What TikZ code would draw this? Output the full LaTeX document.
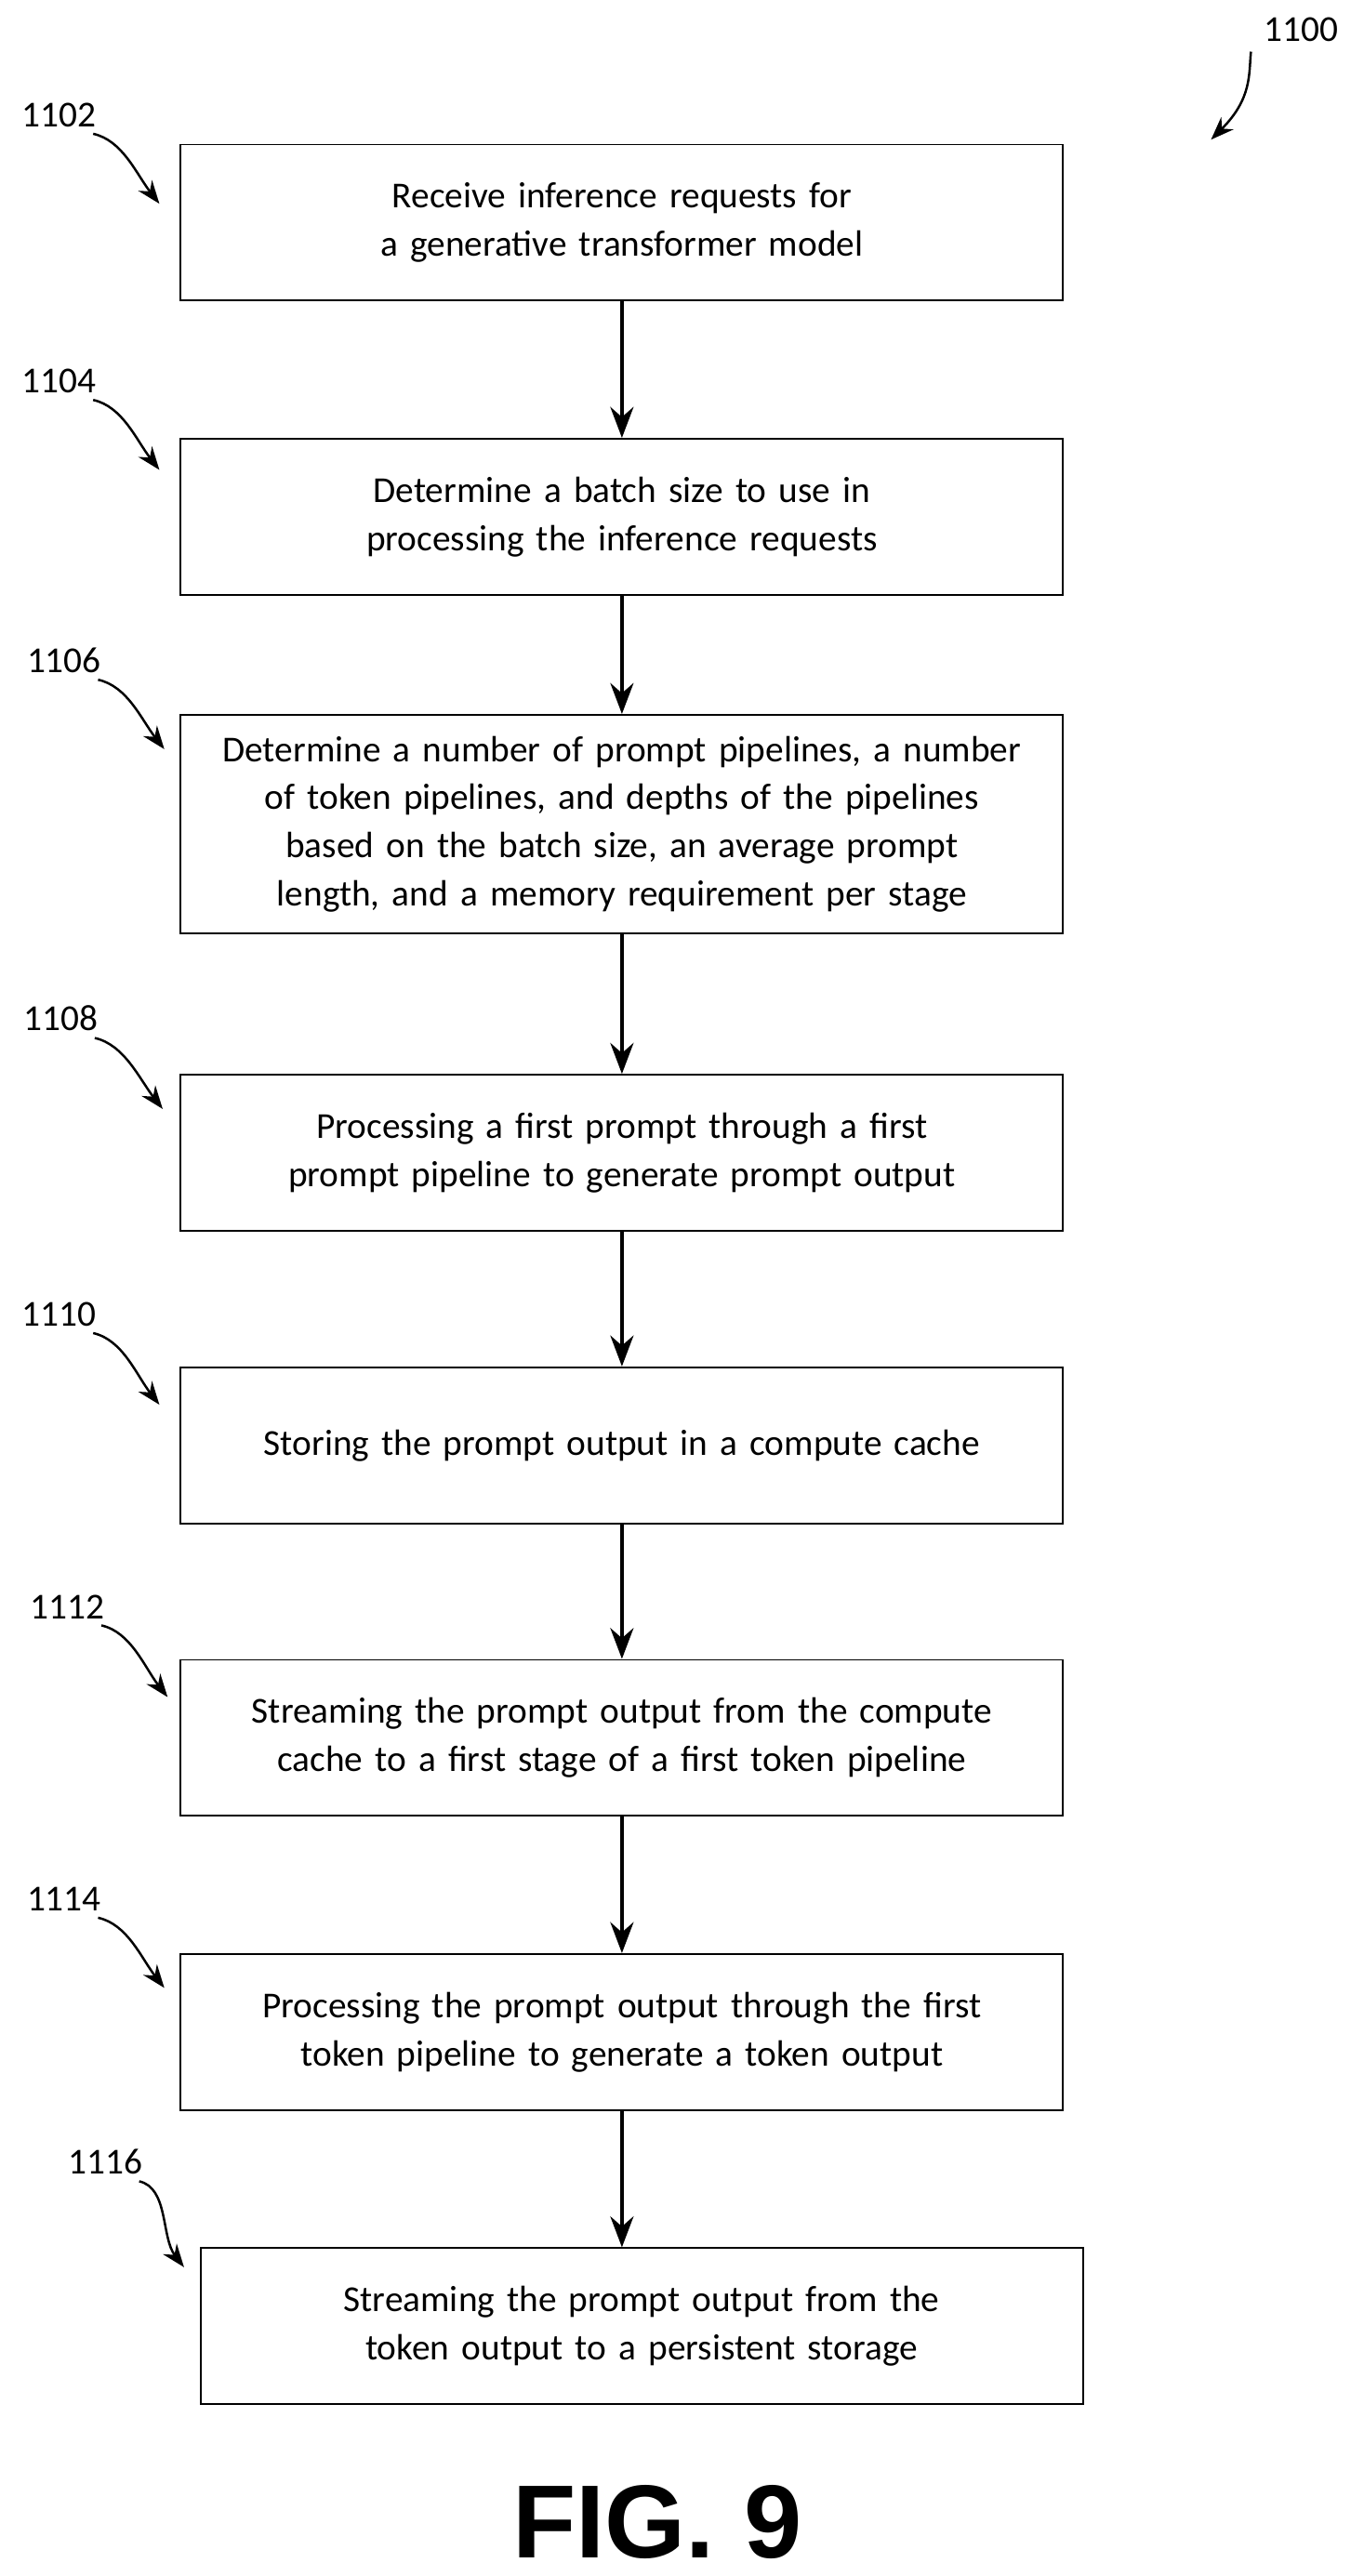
\documentclass[tikz,border=0pt]{standalone}
\usepackage{fontspec}
\setmainfont{Carlito}
\newfontfamily\figfont{Liberation Sans}
\usetikzlibrary{positioning,arrows.meta}

\tikzset{
    stepbox/.style={draw, line width=0.9pt, minimum width=16.11cm, text width=15.3cm,
        align=center, font=\fontsize{19}{25}\selectfont, inner sep=0pt},
    flow/.style={-{Stealth[length=16pt,width=12pt]}, line width=2.2pt},
    tag/.style={font=\fontsize{19}{22}\selectfont},
    hook/.style={-{Stealth[length=12pt,width=9pt]}, line width=1.2pt}
}

\begin{document}
\begin{tikzpicture}[x=0.03cm, y=-0.03cm]
        \useasboundingbox (0,0) rectangle (830,1568);

        \node (b1) [stepbox, minimum height=2.85cm] at (378.5,135.5) {Receive inference requests for a generative transformer model};
        \node (b2) [stepbox, minimum height=2.85cm, below=2.49cm of b1] {Determine a batch size to use in processing the inference requests};
        \node (b3) [stepbox, minimum height=3.99cm, below=2.16cm of b2] {Determine a number of prompt pipelines, a number of token pipelines, and depths of the pipelines based on the batch size, an average prompt length, and a memory requirement per stage};
        \node (b4) [stepbox, minimum height=2.85cm, below=2.55cm of b3] {Processing a first prompt through a first prompt pipeline to generate prompt output};
        \node (b5) [stepbox, minimum height=2.85cm, below=2.46cm of b4] {Storing the prompt output in a compute cache};
        \node (b6) [stepbox, minimum height=2.85cm, below=2.46cm of b5] {Streaming the prompt output from the compute cache to a first stage of a first token pipeline};
        \node (b7) [stepbox, minimum height=2.85cm, below=2.49cm of b6] {Processing the prompt output through the first token pipeline to generate a token output};
        \node (b8) [stepbox, minimum height=2.85cm, below=2.49cm of b7, xshift=0.36cm] {Streaming the prompt output from the token output to a persistent storage};

        \draw[flow] (b1.south) -- (b2.north);
        \draw[flow] (b2.south) -- (b3.north);
        \draw[flow] (b3.south) -- (b4.north);
        \draw[flow] (b4.south) -- (b5.north);
        \draw[flow] (b5.south) -- (b6.north);
        \draw[flow] (b6.south) -- (b7.north);
        \draw[flow] (b7.south) -- (b8.north -| b7.south);

        % reference numerals
        \node (r0) [tag] at (792,18) {1100};
        \node (r1) [tag] at (36,70) {1102};
        \node (r2) [tag] at (36,232) {1104};
        \node (r3) [tag] at (39,402) {1106};
        \node (r4) [tag] at (37,620) {1108};
        \node (r5) [tag] at (36,800) {1110};
        \node (r6) [tag] at (41,978) {1112};
        \node (r7) [tag] at (39,1156) {1114};
        \node (r8) [tag] at (64,1316) {1116};

        \draw[hook] (r0.south west) ++(-4,2) .. controls (760,45) and (762,60) .. (737,85);
        \foreach \r/\x/\y in {r1/97/124, r2/97/286, r3/100/456, r4/99/675, r5/97/855, r6/102/1033, r7/100/1210, r8/112/1380}
            \draw[hook] (\r.south east) ++(-6,0) .. controls +(18,4) and +(-14,-18) .. (\x,\y);

        \node (fig) [font=\figfont\bfseries\fontsize{54}{60}\selectfont] at (400,1535) {FIG. 9};
\end{tikzpicture}
\end{document}
